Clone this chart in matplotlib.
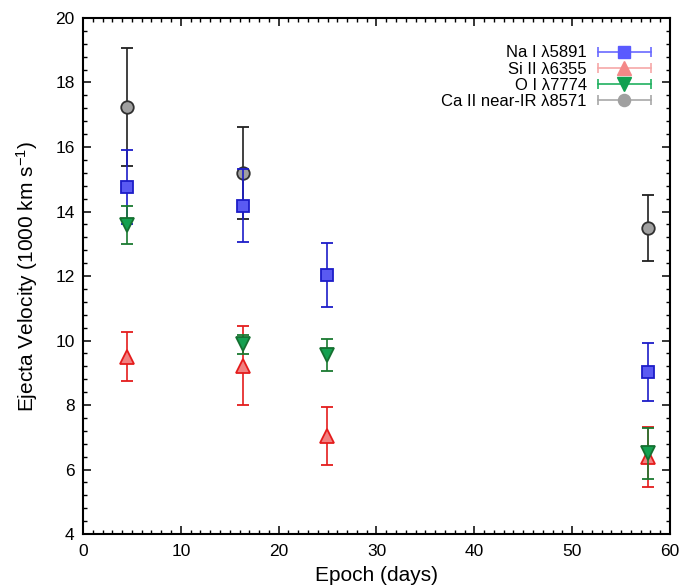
import matplotlib
matplotlib.use("Agg")
import matplotlib.pyplot as plt
from matplotlib.lines import Line2D
from matplotlib.legend_handler import HandlerBase

plt.rcParams['font.family'] = ['Liberation Sans', 'DejaVu Sans']
plt.rcParams['mathtext.default'] = 'regular'

# Data
epochs = [4.5, 16.4, 24.9, 57.8]
na_vel = [14.75, 14.18, 12.03, 9.01]
na_err = [1.15, 1.13, 0.99, 0.90]
si_vel = [9.50, 9.22, 7.04, 6.40]
si_err = [0.76, 1.23, 0.90, 0.93]
o_vel = [13.58, 9.88, 9.55, 6.50]
o_err = [0.60, 0.30, 0.49, 0.78]
ca_epochs = [4.5, 16.4, 57.8]
ca_vel = [17.24, 15.20, 13.49]
ca_err = [1.82, 1.42, 1.03]

labels = ['Na I λ5891', 'Si II λ6355', 'O I λ7774', 'Ca II near-IR λ8571']

fig = plt.figure(figsize=(6.82, 5.88), dpi=100)
ax = fig.add_axes([0.1217, 0.0918, 0.8607, 0.8776])

styles = [
    dict(x=epochs, y=na_vel, e=na_err, marker='s', ms=8.8, fc='#5a5af2', ec='#1c1cc8', lc='#1c1cc8',
         lg_line='#6a6aff', lg_fc='#5a5aff'),
    dict(x=epochs, y=si_vel, e=si_err, marker='^', ms=10.3, fc='#f28080', ec='#e41c1c', lc='#e41c1c',
         lg_line='#f6a8a8', lg_fc='#f48888'),
    dict(x=epochs, y=o_vel, e=o_err, marker='v', ms=10.3, fc='#14a050', ec='#157030', lc='#1a7a30',
         lg_line='#20b060', lg_fc='#10a050'),
    dict(x=ca_epochs, y=ca_vel, e=ca_err, marker='o', ms=9.0, fc='#a0a0a0', ec='#303030', lc='#202020',
         lg_line='#a8a8a8', lg_fc='#a0a0a0'),
]

order_z = [3, 2, 4, 1]
for s, z in zip(styles, order_z):
    ax.errorbar(s['x'], s['y'], yerr=s['e'], fmt=s['marker'], ms=s['ms'],
                mfc=s['fc'], mec=s['ec'], mew=1.3, ecolor=s['lc'], elinewidth=1.2,
                capsize=4.5, capthick=1.4, zorder=z)


class CapLineHandler(HandlerBase):
    def __init__(self, color, marker, ms, fc):
        super().__init__()
        self.color, self.marker, self.ms, self.fc = color, marker, ms, fc

    def create_artists(self, legend, orig_handle, xdescent, ydescent, width, height,
                       fontsize, trans):
        y = height / 2 - ydescent
        x0, x1 = -xdescent, width - xdescent
        line = Line2D([x0, x1], [y, y], color=self.color, lw=1.2)
        caps = Line2D([x0, x1], [y, y], color=self.color, lw=0, marker='|',
                      ms=7, mew=1.2)
        mk = Line2D([(x0 + x1) / 2], [y], lw=0, marker=self.marker, ms=self.ms,
                    mfc=self.fc, mec=self.fc)
        arts = [line, caps, mk]
        for a in arts:
            a.set_transform(trans)
        return arts


handles = []
hmap = {}
for s, lab in zip(styles, labels):
    h = Line2D([], [], label=lab)
    handles.append(h)
    hmap[h] = CapLineHandler(s['lg_line'], s['marker'], s['ms'] - 0.3, s['lg_fc'])

ax.legend(handles=handles, labels=labels, loc='upper right', bbox_to_anchor=(0.9676, 0.947),
          frameon=False, fontsize=12, labelspacing=0.07, markerfirst=False,
          handlelength=3.2, handletextpad=0.65, borderpad=0, borderaxespad=0,
          handler_map=hmap)

ax.set_xlim(0, 60)
ax.set_ylim(4, 20)
ax.set_xticks(range(0, 61, 10))
ax.set_yticks(range(4, 21, 2))
ax.set_xticks(range(0, 61, 1), minor=True)
ax.set_yticks([4 + 0.4 * i for i in range(41)], minor=True)
ax.tick_params(which='both', direction='in', top=True, right=True, labelsize=12.5)
ax.tick_params(axis='x', which='both', pad=7)
ax.tick_params(axis='y', which='both', pad=6)
ax.tick_params(which='major', length=6, width=1.1)
ax.tick_params(which='minor', length=3, width=1.0)
for sp in ax.spines.values():
    sp.set_linewidth(1.5)

ax.set_xlabel('Epoch (days)', fontsize=15, labelpad=5)
ax.set_ylabel('Ejecta Velocity (1000 km s$^{-1}$)', fontsize=15, labelpad=11)

fig.savefig('out.png', dpi=100)
